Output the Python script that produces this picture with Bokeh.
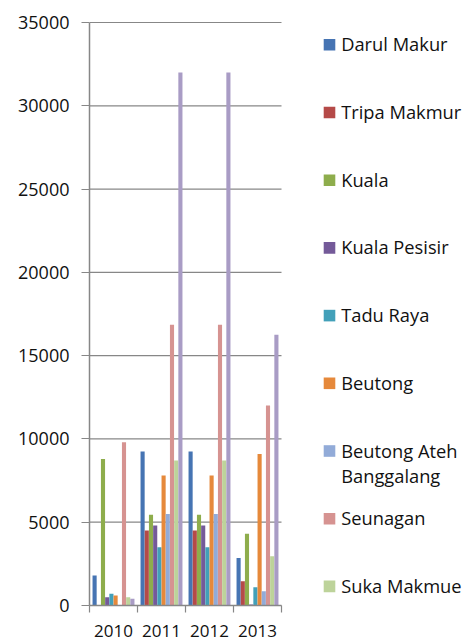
from bokeh.plotting import figure
from bokeh.models import ColumnDataSource, Range1d, FixedTicker
from bokeh.transform import dodge
from bokeh.embed import file_html
from bokeh.resources import INLINE
from bokeh.core.properties import value

years = ["2010", "2011", "2012", "2013"]
series_names = ["Darul Makur", "Tripa Makmur", "Kuala", "Kuala Pesisir", "Tadu Raya",
                "Beutong", "Beutong Ateh\nBanggalang", "Seunagan", "Suka Makmue", "Seunagan Timur"]
darul_makur = [1800, 9250, 9250, 2850]
tripa_makmur = [0, 4500, 4500, 1450]
kuala = [8800, 5450, 5450, 4300]
kuala_pesisir = [500, 4800, 4800, 60]
tadu_raya = [700, 3500, 3500, 1100]
beutong = [600, 7800, 7800, 9100]
beutong_ateh_banggalang = [0, 5500, 5500, 850]
seunagan = [9800, 16850, 16850, 12000]
suka_makmue = [500, 8700, 8700, 2950]
seunagan_timur = [400, 32000, 32000, 16250]
y_ticks = [0, 5000, 10000, 15000, 20000, 25000, 30000, 35000]
legend_shown = 9

colors = ["#4674B3", "#B54A48", "#8EAD4C", "#745A99", "#42A0B9",
          "#E6893B", "#92ABD8", "#D69391", "#BDD39A", "#A99CC5"]
series = [darul_makur, tripa_makmur, kuala, kuala_pesisir, tadu_raya, beutong,
          beutong_ateh_banggalang, seunagan, suka_makmue, seunagan_timur]

FONT = "Open Sans"
GRAY = "#878787"
TXT = "#111111"

# ---- layout (pixels) ----
W, H = 463, 641
L, T, B = 89, 19, 36
frame_w = W - L
frame_h = H - T - B          # 586
cat_px = 48                  # pixels per category
y_max = y_ticks[-1]
px_per_unit = 583 / y_max    # 35000 spans 583 px
x_end = frame_w / cat_px
y_end = frame_h / px_per_unit

n = len(series)
cols = {"x": [i + 0.5 for i in range(len(years))]}
for k, s in enumerate(series):
    cols[f"s{k}"] = s
src = ColumnDataSource(cols)

p = figure(width=W, height=H, x_range=Range1d(0, x_end), y_range=Range1d(0, y_end),
           output_backend="svg", toolbar_location=None,
           min_border_left=L, min_border_right=0, min_border_top=T, min_border_bottom=B)
p.outline_line_color = None
p.grid.grid_line_color = None

# horizontal gridlines, limited to the category area
p.segment(x0=[0] * len(y_ticks), x1=[len(years)] * len(y_ticks), y0=y_ticks, y1=y_ticks,
          line_color=GRAY, line_width=1.2)

bar_w = 0.0875
for k in range(n):
    off = (k - (n - 1) / 2) * bar_w
    p.vbar(x=dodge("x", off, range=p.x_range), top=f"s{k}", width=bar_w * 0.98,
           source=src, fill_color=colors[k], line_color=None)

ya = p.yaxis[0]
ya.ticker = FixedTicker(ticks=y_ticks)
ya.bounds = (0, y_max)
ya.axis_line_color = GRAY
ya.axis_line_width = 1.5
ya.major_tick_line_color = GRAY
ya.major_tick_line_width = 1.2
ya.major_tick_out = 8
ya.major_tick_in = 0
ya.minor_tick_line_color = None
ya.major_label_standoff = 12
ya.major_label_text_font = FONT
ya.major_label_text_font_size = "18px"
ya.major_label_text_color = TXT

xa = p.xaxis[0]
xa.ticker = FixedTicker(ticks=[i + 0.5 for i in range(len(years))],
                        minor_ticks=list(range(len(years) + 1)))
xa.bounds = (0, len(years))
xa.major_label_overrides = {i + 0.5: y for i, y in enumerate(years)}
xa.axis_line_color = GRAY
xa.axis_line_width = 1.5
xa.major_tick_line_color = None
xa.major_tick_out = 0
xa.major_tick_in = 0
xa.minor_tick_line_color = GRAY
xa.minor_tick_line_width = 1.2
xa.minor_tick_out = 7
xa.minor_tick_in = 0
xa.major_label_standoff = 12
xa.major_label_text_font = FONT
xa.major_label_text_font_size = "17px"
xa.major_label_text_color = TXT

# ---- legend, positioned in pixels relative to the 35000 line / axis ----
def xpx(px):
    return px / cat_px

def ypx(px_below_top_line):
    return (583 - px_below_top_line) / px_per_unit

step = 67.7
sq_x, sq_y, sq_c, tx, ty, tt = [], [], [], [], [], []
for k in range(legend_shown):
    base = 28.3 + step * k       # text baseline, px below the 35000 line
    sq_x.append(xpx(240))
    sq_y.append(ypx(base - 6))
    sq_c.append(colors[k])
    for j, line in enumerate(series_names[k].split("\n")):
        tx.append(xpx(251.7))
        ty.append(ypx(base - 7 + 25 * j))
        tt.append(line)
p.rect(x=sq_x, y=sq_y, width=11.6, height=11.6, width_units="screen", height_units="screen",
       fill_color=sq_c, line_color=None)
p.text(x=tx, y=ty, text=tt, text_font=value(FONT), text_font_size="18.3px",
       text_baseline="alphabetic", text_align="left", text_color=TXT)

open("out.html", "w").write(file_html(p, INLINE))
